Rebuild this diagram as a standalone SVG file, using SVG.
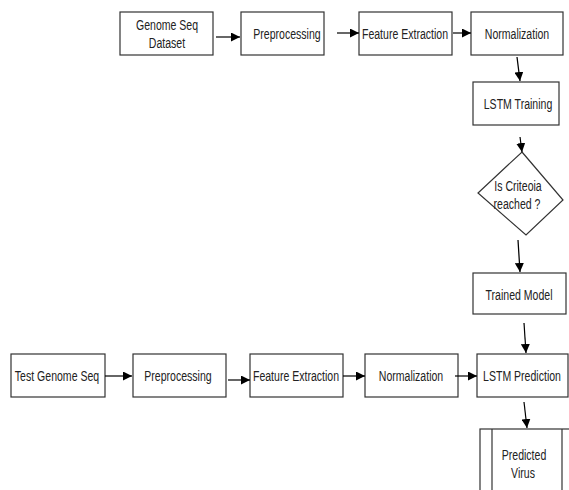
<svg xmlns="http://www.w3.org/2000/svg" width="569" height="490" viewBox="0 0 569 490">
<style>
.box{fill:#fff;stroke:#333;stroke-width:1.2}
.t{font-family:"Liberation Sans",Arial,sans-serif;font-size:15.5px;fill:#222;text-anchor:middle}
.c{stroke:#000;stroke-width:1.2;fill:none;marker-end:url(#ah)}
</style>
<defs>
<marker id="ah" markerUnits="userSpaceOnUse" markerWidth="9" markerHeight="9" refX="9" refY="4.5" orient="auto">
<path d="M0,0 L9,4.5 L0,9 z" fill="#000"/>
</marker>
</defs>
<rect width="569" height="490" fill="#fff"/>
<g id="n1"><rect class="box" x="120" y="12" width="93" height="43"/><text class="t" transform="translate(167,30) scale(0.68,1)">Genome Seq</text><text class="t" transform="translate(167,48) scale(0.68,1)">Dataset</text></g>
<g id="n2"><rect class="box" x="241" y="12" width="83" height="43"/><text class="t" transform="translate(287,39) scale(0.68,1)">Preprocessing</text></g>
<g id="n3"><rect class="box" x="359" y="12" width="93" height="43"/><text class="t" transform="translate(405,39) scale(0.68,1)">Feature Extraction</text></g>
<g id="n4"><rect class="box" x="471" y="12" width="92" height="43"/><text class="t" transform="translate(517,39) scale(0.68,1)">Normalization</text></g>
<g id="n5"><rect class="box" x="473" y="82" width="86" height="43"/><text class="t" transform="translate(518,109) scale(0.68,1)">LSTM Training</text></g>
<g id="n6"><polygon class="box" points="522,152 563,200 526,235 478,193"/><text class="t" transform="translate(518,191) scale(0.68,1)">Is Criteoia</text><text class="t" transform="translate(517,209) scale(0.68,1)">reached ?</text></g>
<g id="n7"><rect class="box" x="473" y="273" width="93" height="41"/><text class="t" transform="translate(519,300) scale(0.68,1)">Trained Model</text></g>
<g id="n8"><rect class="box" x="11" y="354" width="94" height="43"/><text class="t" transform="translate(57,381) scale(0.68,1)">Test Genome Seq</text></g>
<g id="n9"><rect class="box" x="133" y="354" width="93" height="43"/><text class="t" transform="translate(178,381) scale(0.68,1)">Preprocessing</text></g>
<g id="n10"><rect class="box" x="250" y="354" width="93" height="43"/><text class="t" transform="translate(296,381) scale(0.68,1)">Feature Extraction</text></g>
<g id="n11"><rect class="box" x="365" y="354" width="93" height="43"/><text class="t" transform="translate(411,381) scale(0.68,1)">Normalization</text></g>
<g id="n12"><rect class="box" x="477" y="354" width="91" height="43"/><text class="t" transform="translate(522,381) scale(0.68,1)">LSTM Prediction</text></g>
<g id="n13"><rect class="box" x="480" y="429" width="100" height="80"/><line class="box" x1="492" y1="429" x2="492" y2="490"/><line class="box" x1="562" y1="429" x2="562" y2="490"/><text class="t" transform="translate(524,460) scale(0.68,1)">Predicted</text><text class="t" transform="translate(523,478) scale(0.68,1)">Virus</text></g>
<g id="connectors">
<line class="c" x1="216" y1="37" x2="240" y2="37"/>
<line class="c" x1="337" y1="33" x2="359" y2="33"/>
<line class="c" x1="453" y1="33" x2="471" y2="33"/>
<line class="c" x1="517" y1="57" x2="520" y2="81"/>
<line class="c" x1="520" y1="137" x2="522" y2="152"/>
<line class="c" x1="518" y1="240" x2="520" y2="272"/>
<line class="c" x1="524" y1="323" x2="526" y2="353"/>
<line class="c" x1="105" y1="376" x2="132" y2="376"/>
<line class="c" x1="228" y1="380" x2="250" y2="380"/>
<line class="c" x1="343" y1="376" x2="365" y2="376"/>
<line class="c" x1="455" y1="376" x2="477" y2="376"/>
<line class="c" x1="524" y1="402" x2="527" y2="428"/>
</g>
</svg>
